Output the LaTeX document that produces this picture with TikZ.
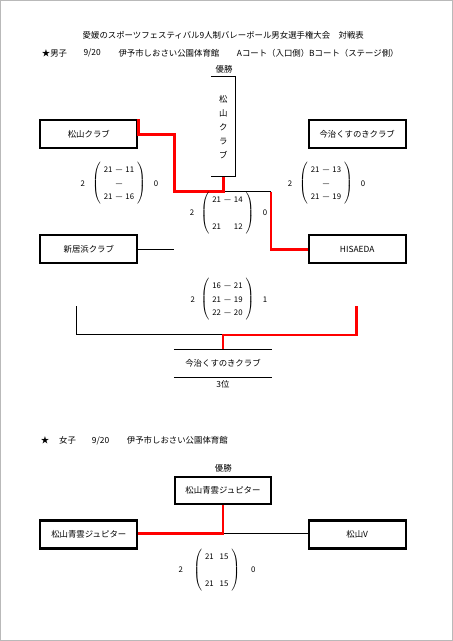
\documentclass[tikz,border=0pt]{standalone}
\usepackage{fontspec}
\setmainfont{Noto Sans CJK JP}
\usetikzlibrary{positioning}
\newcommand{\setscore}[1]{$\left(\hspace{3pt}\renewcommand{\arraystretch}{1.35}%
  \begin{tabular}{@{}c@{\hspace{3pt}}c@{\hspace{3pt}}c@{}}#1\end{tabular}\hspace{3pt}\right)$}

\begin{document}
\begin{tikzpicture}[x=1pt,y=-1pt,
  team/.style={draw,line width=2.2pt,minimum width=97pt,minimum height=28pt,
               inner sep=0pt,font=\fontsize{8.4}{10}\selectfont},
  lbl/.style={inner sep=0pt,font=\fontsize{8.4}{10}\selectfont},
  score/.style={inner sep=0pt,font=\fontsize{7.8}{10}\selectfont},
  win/.style={draw=red,line width=2.6pt},
  wire/.style={draw=black,line width=0.9pt}]

  \useasboundingbox (0,0) rectangle (453,641);
  \draw[gray!55,line width=0.7pt] (0.4,0.4) rectangle (452.6,640.6);

  % heading
  \node[lbl] (title) at (223.3,35) {愛媛のスポーツフェスティバル9人制バレーボール男女選手権大会　対戦表};
  \node[lbl,anchor=west] (men) at (41.7,53.3) {★男子};
  \node[lbl,anchor=west] (mdate) at (83.3,53.3) {9/20};
  \node[lbl,anchor=west] (mhall) at (118.3,53.3) {伊予市しおさい公園体育館};
  \node[lbl,anchor=west] (mcourt) at (236.7,53.3) {Aコート（入口側）Bコート（ステージ側）};

  % men
  \node[lbl,align=center,minimum width=24.7pt,minimum height=100pt,
        font=\fontsize{8.4}{14}\selectfont] (champ) at (223.3,126.7) {松\\山\\ク\\ラ\\ブ};
  \draw[wire] (champ.north west) -- (champ.north east) -- (champ.south east) -- (champ.south west);
  \node[lbl] (champlbl) at (224,69) {優勝};

  \node[team] (mtl) at (88.8,134.2) {松山クラブ};
  \node[team] (mtr) at (357.2,134.2) {今治くすのきクラブ};
  \node[team] (mbl) at (88.8,249.2) {新居浜クラブ};
  \node[team] (mbr) at (357.2,249.2) {HISAEDA};

  \coordinate (ja) at (174.3,191.7);
  \coordinate (jb) at (271,191.7);
  \coordinate (jc) at (174.3,249.2);
  \draw[wire] (champ.south |- ja) -- (jb);
  \draw[wire] (mbl.east) -- (jc);
  \draw[win] (mtl.north east) -- (mtl.east) -| (ja) -| (champ.south);
  \draw[win] (jb) |- (mbr.west);

  \node[score] (s1) at (119,183.5) {\setscore{21&—&11\\&—&\\21&—&16}};
  \node[score] (s1a) at (82.7,184) {2};
  \node[score] (s1b) at (156,184) {0};
  \node[score] (s2) at (326,183.5) {\setscore{21&—&13\\&—&\\21&—&19}};
  \node[score] (s2a) at (290,184) {2};
  \node[score] (s2b) at (363,184) {0};
  \node[score] (s3) at (227.5,213) {\setscore{21&—&14\\&&\\21&&12}};
  \node[score] (s3a) at (192,212.3) {2};
  \node[score] (s3b) at (265,212.3) {0};

  % third place
  \node[score] (s4) at (227.5,299.3) {\setscore{16&—&21\\21&—&19\\22&—&20}};
  \node[score] (s4a) at (192.7,299.3) {2};
  \node[score] (s4b) at (265,299.3) {1};
  \node[lbl,minimum width=97.7pt,minimum height=28pt] (third) at (223,363.3) {今治くすのきクラブ};
  \draw[wire] (third.north west) -- (third.north east);
  \draw[wire] (third.south west) -- (third.south east);
  \node[lbl,below=3pt of third] (rank) {3位};
  \coordinate (tl) at (76,306);
  \coordinate (tr) at (356.7,306);
  \coordinate (tm) at (223,334.8);
  \draw[wire] (tl) |- (tm);
  \draw[win] (tr) |- (tm) -- (third.north);

  % women
  \node[lbl] (wstar) at (45,440.7) {★};
  \node[lbl,anchor=west] (women) at (59,440.7) {女子};
  \node[lbl,anchor=west] (wdate) at (91.7,440.7) {9/20};
  \node[lbl,anchor=west] (whall) at (126.7,440.7) {伊予市しおさい公園体育館};
  \node[lbl] (wchamplbl) at (223.3,468.3) {優勝};
  \node[team,minimum width=96pt,minimum height=27pt] (wchamp) at (223,490.3) {松山青雲ジュピター};
  \node[team] (wl) at (88.8,534.5) {松山青雲ジュピター};
  \node[team] (wr) at (357.2,534.5) {松山V};
  \coordinate (wj) at (223,533.6);
  \draw[wire] (wj) -- (wr.west |- wj);
  \draw[win] (wl.east |- wj) -- (wj) -- (wchamp.south);
  \node[score] (s5) at (216.7,570) {\setscore{21&&15\\&&\\21&&15}};
  \node[score] (s5a) at (180.7,570) {2};
  \node[score] (s5b) at (253.3,570) {0};
\end{tikzpicture}
\end{document}
